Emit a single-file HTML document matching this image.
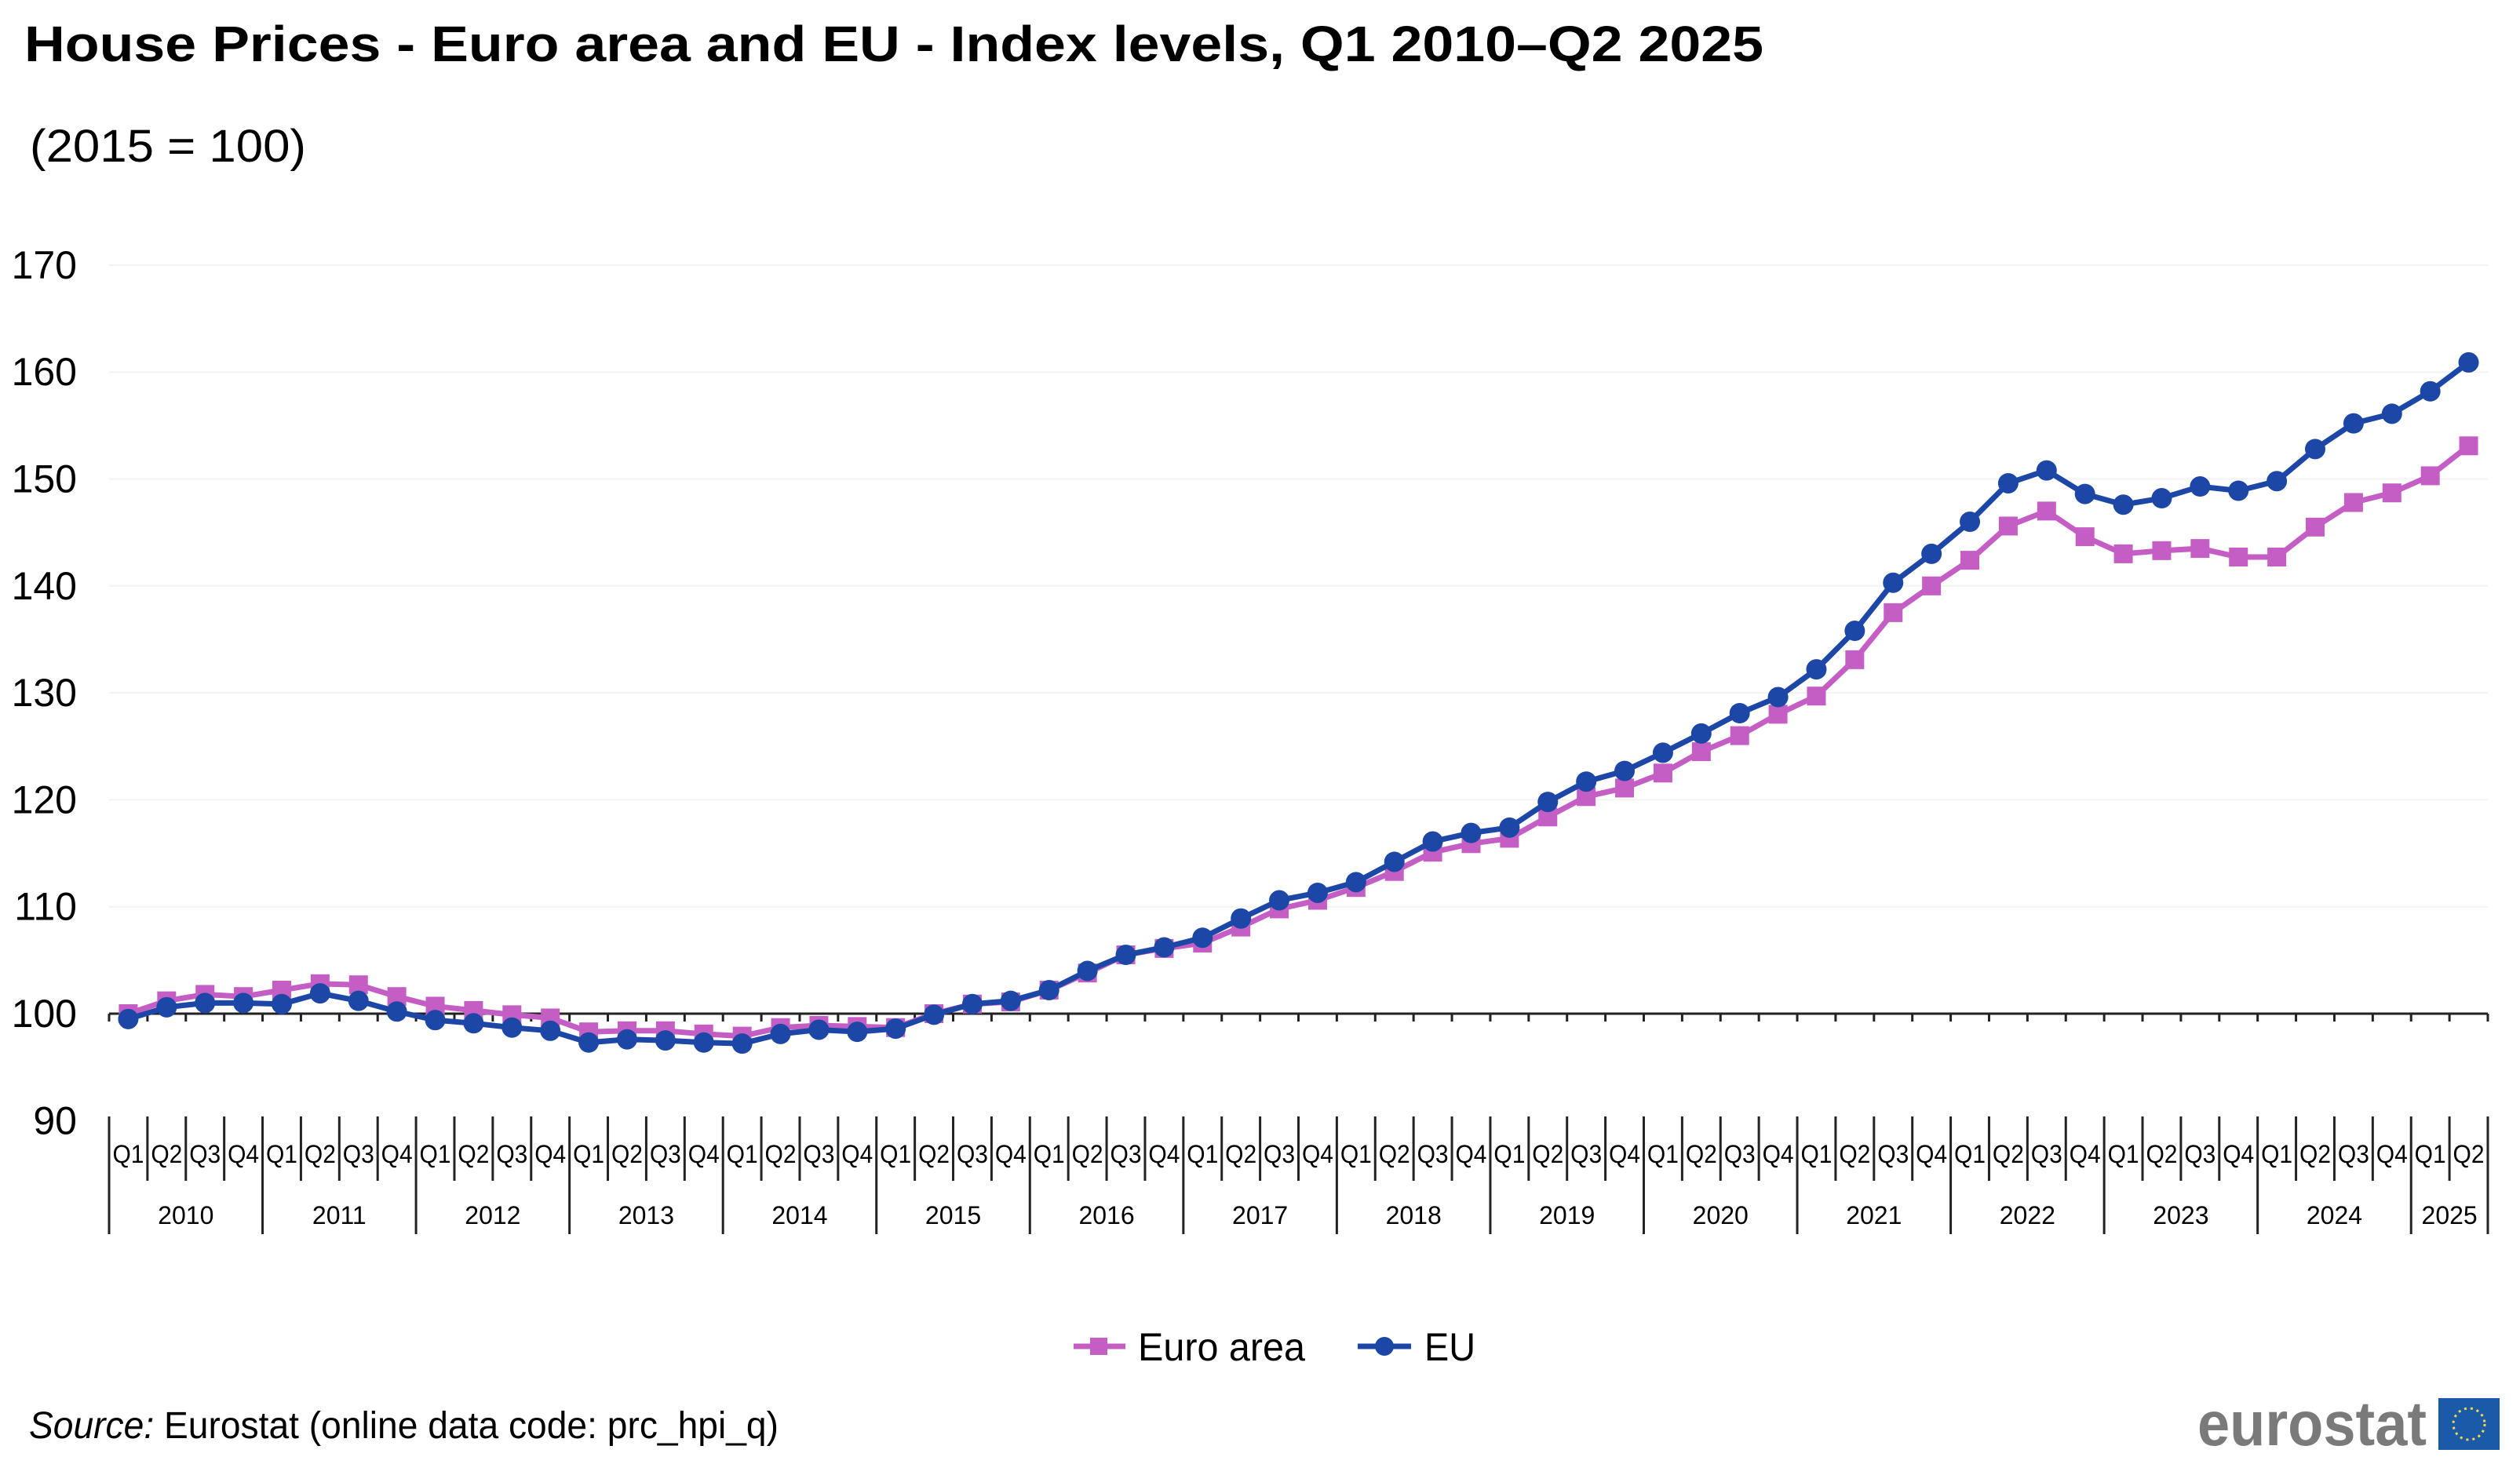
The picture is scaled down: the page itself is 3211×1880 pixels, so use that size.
<!DOCTYPE html>
<html><head><meta charset="utf-8"><style>
html,body{margin:0;padding:0;background:#fff;width:3211px;height:1880px;overflow:hidden}
svg{display:block;font-family:"Liberation Sans",sans-serif}
</style></head><body>
<svg id="chart" width="3211" height="1880" viewBox="0 0 3211 1880" xmlns="http://www.w3.org/2000/svg">
<text x="31" y="78" font-size="64" font-weight="bold" textLength="2216" lengthAdjust="spacingAndGlyphs">House Prices - Euro area and EU - Index levels, Q1 2010–Q2 2025</text>
<text x="38" y="206" font-size="58" textLength="352" lengthAdjust="spacingAndGlyphs">(2015 = 100)</text>
<g id="grid"></g>
<g id="yaxis"></g>
<g id="xaxis"></g>
<g id="series"></g>
<g>
 <g>
  <line x1="1368" y1="1716" x2="1434" y2="1716" stroke="#c45ec4" stroke-width="7"/>
  <rect x="1389" y="1705" width="22" height="22" fill="#c45ec4"/>
  <text x="1450" y="1734" font-size="50" textLength="213" lengthAdjust="spacingAndGlyphs">Euro area</text>
 </g>
 <g>
  <line x1="1730" y1="1716" x2="1798" y2="1716" stroke="#1d47a6" stroke-width="7"/>
  <circle cx="1764" cy="1716" r="12" fill="#1d47a6"/>
  <text x="1815" y="1734" font-size="50" textLength="65" lengthAdjust="spacingAndGlyphs">EU</text>
 </g>
</g>
<text x="37" y="1833" font-size="48" textLength="955" lengthAdjust="spacingAndGlyphs"><tspan font-style="italic">Source:</tspan> Eurostat (online data code: prc_hpi_q)</text>
<g>
 <text x="2800" y="1842" font-size="80" font-weight="bold" fill="#7a7a7a" textLength="292" lengthAdjust="spacingAndGlyphs">eurostat</text>
 <rect x="3107" y="1782" width="78" height="66" fill="#1a5aa6"/>
 <circle cx="3146" cy="1815" r="20" fill="none" stroke="#f2d84a" stroke-width="3" stroke-dasharray="3 5"/>
</g>
</svg>
<script>
const yTicks=[90,100,110,120,130,140,150,160,170];
const years=["2010","2011","2012","2013","2014","2015","2016","2017","2018","2019","2020","2021","2022","2023","2024","2025"];
const quarters=["Q1","Q2","Q3","Q4"];
const euroArea=[100.0,101.2,101.8,101.6,102.2,102.8,102.7,101.6,100.7,100.3,99.9,99.6,98.3,98.4,98.4,98.1,97.9,98.7,98.9,98.8,98.7,100.0,100.9,101.1,102.2,103.8,105.5,106.1,106.6,108.1,109.8,110.6,111.8,113.3,115.1,115.9,116.4,118.4,120.3,121.1,122.5,124.5,126.0,128.0,129.7,133.1,137.5,140.0,142.4,145.6,147.0,144.6,143.0,143.3,143.5,142.7,142.7,145.5,147.8,148.7,150.3,153.1];
const eu=[99.5,100.6,101.0,101.0,100.9,101.9,101.2,100.2,99.4,99.1,98.7,98.4,97.3,97.6,97.5,97.3,97.2,98.1,98.5,98.3,98.6,99.9,100.9,101.2,102.2,104.0,105.5,106.2,107.1,108.9,110.6,111.3,112.3,114.2,116.1,116.9,117.4,119.8,121.7,122.7,124.4,126.2,128.1,129.6,132.2,135.8,140.3,143.0,146.0,149.6,150.8,148.6,147.6,148.2,149.3,148.9,149.8,152.8,155.2,156.1,158.2,160.9];
const NS="http://www.w3.org/2000/svg";
const X0=139,X1=3170,N=euroArea.length,QW=(X1-X0)/N;
function xs(i){return X0+(i+0.5)*QW;}
function ys(v){return 1292-(v-100)*13.63;}
function mk(tag,attrs,parent){const e=document.createElementNS(NS,tag);for(const k in attrs)e.setAttribute(k,attrs[k]);parent.appendChild(e);return e;}
const grid=document.getElementById('grid'),ya=document.getElementById('yaxis'),xa=document.getElementById('xaxis'),se=document.getElementById('series');
yTicks.forEach(v=>{
 if(v>100){const g=mk('line',{x1:X0,x2:X1,y1:ys(v),y2:ys(v),stroke:'#f3f3f3','stroke-width':2},grid);
 
 }
 const t=mk('text',{x:98,y:ys(v)+17,'font-size':50,'text-anchor':'end'},ya);
 
 
 t.textContent=v;
});
const ax=mk('line',{x1:X0,x2:X1,y1:ys(100),y2:ys(100),stroke:'#222','stroke-width':3},xa);


for(let i=0;i<=N;i++){mk('line',{x1:X0+i*QW,x2:X0+i*QW,y1:ys(100),y2:ys(100)+10,stroke:'#222','stroke-width':3},xa);}
const TOP=1423;
for(let i=0;i<=N;i++){
 const x=X0+i*QW,isYear=i%4===0||i===N;
 mk('line',{x1:x,x2:x,y1:TOP,y2:isYear?1573:1505,stroke:'#222','stroke-width':3},xa);
 if(i<N){const t=mk('text',{x:x+QW/2,y:1482,'font-size':32,'text-anchor':'middle',textLength:40,lengthAdjust:'spacingAndGlyphs'},xa);
 
 
 t.textContent=quarters[i%4];}
}
years.forEach((y,k)=>{
 const n=Math.min(4,N-k*4);
 const t=mk('text',{x:X0+(k*4+n/2)*QW,y:1560,'font-size':32,'text-anchor':'middle'},xa);
 
 
 t.textContent=y;
});
function drawSeries(data,color,shape,name){
 const g=mk('g',{},se);
 
 
 const p=mk('polyline',{points:data.map((v,i)=>xs(i)+','+ys(v)).join(' '),fill:'none',stroke:color,'stroke-width':7,'stroke-linejoin':'round'},g);
 
 
 data.forEach((v,i)=>{
  let m;
  if(shape==='sq')m=mk('rect',{x:xs(i)-12,y:ys(v)-12,width:24,height:24,fill:color},g);
  else m=mk('circle',{cx:xs(i),cy:ys(v),r:13,fill:color},g);
  
  
 });
}
drawSeries(euroArea,'#c45ec4','sq','euro-area');
drawSeries(eu,'#1d47a6','ci','eu');
</script>
</body></html>
